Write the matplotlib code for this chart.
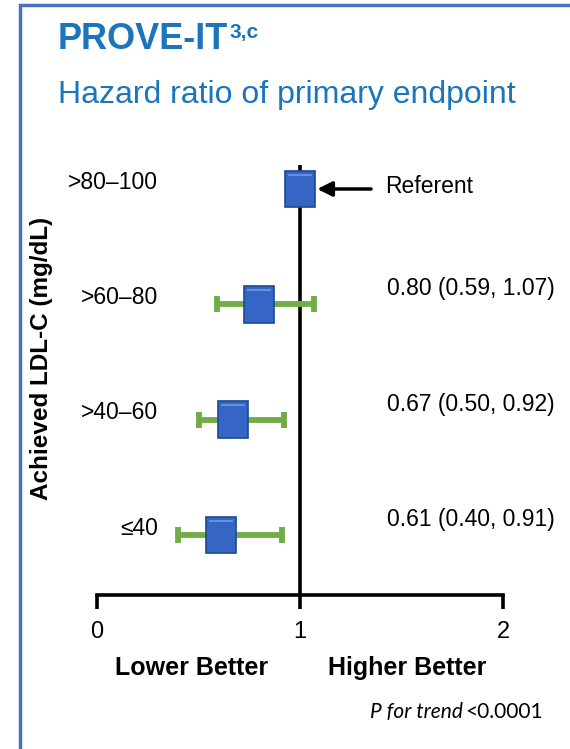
import matplotlib
matplotlib.use("Agg")
import matplotlib.pyplot as plt
from matplotlib.patches import Rectangle

plt.rcParams['font.family'] = ['Liberation Sans', 'DejaVu Sans']

# achieved LDL-C groups, top row is the referent
groups = ['>80–100', '>60–80', '>40–60', '≤40']
hr = [1.00, 0.80, 0.67, 0.61]
ci_lo = [None, 0.59, 0.50, 0.40]
ci_hi = [None, 1.07, 0.92, 0.91]
xticks = [0, 1, 2]

BLUE = '#1B75BB'
GREEN = '#70AD47'

W, H = 570, 749
fig = plt.figure(figsize=(W / 100, H / 100), dpi=100)
ax = fig.add_axes([97 / W, 1 - 595 / H, 406 / W, 430 / H])
ax.set_xlim(0, 2)
ax.set_ylim(-0.52, 3.208)

rows = list(range(len(groups)))[::-1]

# confidence intervals
for y, h, lo, hi in zip(rows, hr, ci_lo, ci_hi):
    if lo is None:
        continue
    ax.errorbar([h], [y], xerr=[[h - lo], [hi - h]], fmt='none',
                ecolor=GREEN, elinewidth=4.2, capsize=6, capthick=4.2, zorder=2)

ax.axvline(1, color='black', lw=2.6, zorder=1)

# point estimates as blue boxes
bw, bh = 0.148, 0.32
for y, h in zip(rows, hr):
    ax.add_patch(Rectangle((h - bw / 2, y - bh / 2), bw, bh, facecolor='#3566C6',
                           edgecolor='#1D4A90', lw=1.2, zorder=3))
    ax.plot([h - bw / 2 + 0.02, h + bw / 2 - 0.02], [y + bh / 2 - 0.035] * 2,
            color='#6E9BE6', lw=1.2, zorder=4)

# row labels and estimates
for y, g, h, lo, hi in zip(rows, groups, hr, ci_lo, ci_hi):
    ax.text(0.30, y + 0.06, g, ha='right', va='center', fontsize=16.5)
    if lo is None:
        ax.annotate('', xy=(1.085, y), xytext=(1.35, y),
                    arrowprops=dict(arrowstyle='-|>', color='black', lw=2.5,
                                    mutation_scale=22, shrinkA=0, shrinkB=0))
        ax.text(1.42, y + 0.02, 'Referent', ha='left', va='center', fontsize=16.5)
    else:
        ax.text(1.43, y + 0.135, f'{h:.2f} ({lo:.2f}, {hi:.2f})',
                ha='left', va='center', fontsize=16.5)

for s in ['top', 'right', 'left']:
    ax.spines[s].set_visible(False)
ax.spines['bottom'].set_linewidth(2.6)
ax.set_yticks([])
ax.set_xticks(xticks)
ax.set_xticklabels([str(t) for t in xticks], fontsize=17)
ax.tick_params(axis='x', direction='out', length=10, width=2.6, pad=9)

fig.text(42 / W, 1 - 358 / H, 'Achieved LDL-C (mg/dL)', rotation=90,
         ha='center', va='center', fontsize=17.5, fontweight='bold')

fig.text(192 / W, 1 - 668 / H, 'Lower Better', ha='center', va='center',
         fontsize=18, fontweight='bold')
fig.text(407 / W, 1 - 668 / H, 'Higher Better', ha='center', va='center',
         fontsize=18, fontweight='bold')

pt = fig.text(543 / W, 1 - 712 / H, '<0.0001', ha='right', va='center',
              fontsize=15, family=['Lato', 'DejaVu Sans'])
fig.canvas.draw()
x0 = pt.get_window_extent().x0
fig.text(x0 / W - 0.005, 1 - 712 / H, 'P for trend', ha='right', va='center',
         fontsize=15, style='italic', family=['Lato', 'DejaVu Sans'])

title = fig.text(58 / W, 1 - 22 / H, 'PROVE-IT', ha='left', va='top',
                 fontsize=26, fontweight='bold', color=BLUE)
fig.canvas.draw()
tb = title.get_window_extent()
fig.text(tb.x1 / W + 0.002, tb.y1 / H - 0.002, '3,c', ha='left', va='top',
         fontsize=15, fontweight='bold', color=BLUE)
fig.text(58 / W, 1 - 95 / H, 'Hazard ratio of primary endpoint', ha='left',
         va='center', fontsize=23, color=BLUE)

# panel frame, open towards the right and bottom edges
fig.add_artist(Rectangle((20 / W, -0.1), 1.2, 1 - 5 / H + 0.1,
                         transform=fig.transFigure, fill=False,
                         edgecolor='#4A72C0', lw=2.5))

fig.savefig('out.png', dpi=100)
